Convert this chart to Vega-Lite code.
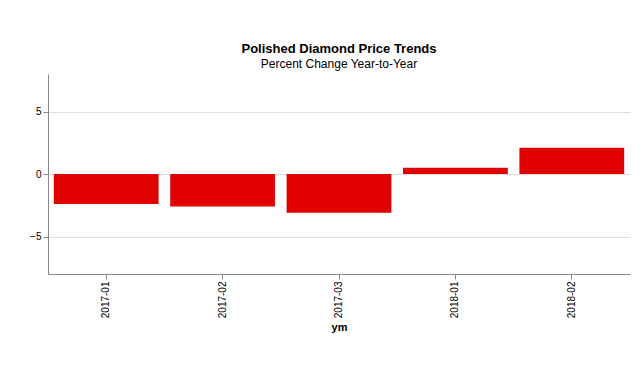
{
  "$schema": "https://vega.github.io/schema/vega-lite/v6.json",
  "width": 582,
  "height": 200,
  "autosize": {"type": "none"},
  "padding": {"left": 48, "top": 74, "right": 13, "bottom": 104},
  "background": "white",
  "config": {"view": {"stroke": null}, "font": "Liberation Sans"},
  "title": {
    "text": "Polished Diamond Price Trends",
    "subtitle": "Percent Change Year-to-Year",
    "anchor": "middle"
  },
  "data": {
    "values": [
      {"ym": "2017-01", "v": -2.4}, {"ym": "2017-02", "v": -2.6}, {"ym": "2017-03", "v": -3.1},
      {"ym": "2018-01", "v": 0.5}, {"ym": "2018-02", "v": 2.1}
    ]
  },
  "encoding": {
    "y": {
      "field": "v",
      "type": "quantitative",
      "scale": {"domain": [-8, 8], "nice": false},
      "axis": {"title": null}
    }
  },
  "layer": [
    {
      "mark": {"type": "bar", "color": "#e00000"},
      "encoding": {
        "x": {"field": "ym", "type": "ordinal"}
      }
    }
  ]
}
